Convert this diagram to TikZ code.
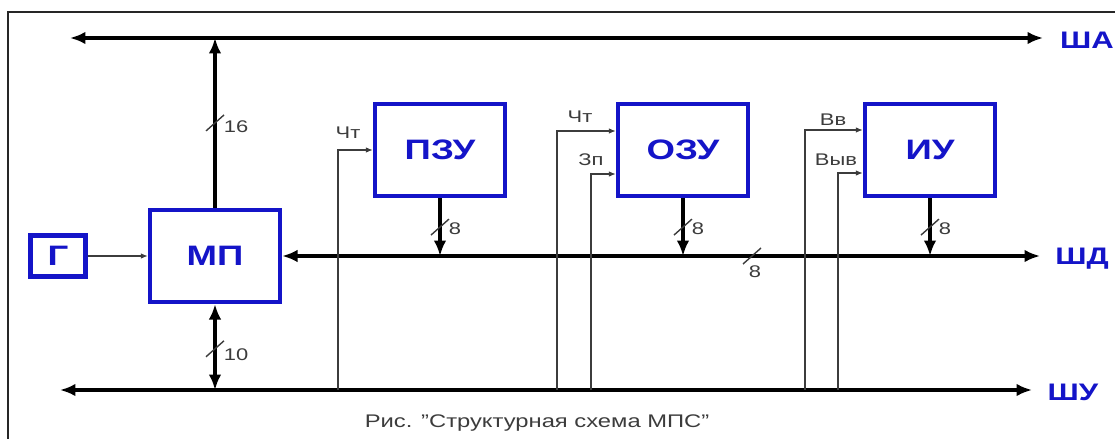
\documentclass[tikz,border=0pt]{standalone}
\usepackage{fontspec}
\setmainfont{Liberation Sans}[FakeStretch=1.3]
\usetikzlibrary{arrows.meta}
\definecolor{boxblue}{RGB}{20,20,200}
\definecolor{wiregray}{RGB}{60,60,60}
\tikzset{blk/.style={rectangle,draw=boxblue,line width=3pt,minimum width=3.25cm,minimum height=2.3cm,text=boxblue,font=\fontsize{20}{24}\selectfont\bfseries},buslbl/.style={text=boxblue,font=\fontsize{17}{20}\selectfont\bfseries},smalllbl/.style={text=wiregray,font=\fontsize{12}{14}\selectfont,inner sep=0pt},bus/.style={line width=2.8pt,{Latex[length=11pt,width=9pt]}-{Latex[length=11pt,width=9pt]}},busend/.style={line width=2.8pt,-{Latex[length=11pt,width=9pt]}},ctrl/.style={draw=wiregray,line width=1.1pt,-{Latex[length=5pt,width=4pt]}},widthmark/.style={draw=wiregray,line width=1pt},frame/.style={line width=1.5pt,draw=black!85}}

\begin{document}
\begin{tikzpicture}[x=0.025cm,y=-0.025cm]
\useasboundingbox (0,0) rectangle (1115,439);
\draw[frame] (8,439) -- (8,12) -- (1115,12);
% blocks
\node[blk] (mp) at (215,256) {МП};
\node[blk] (pzu) at (440,150) {ПЗУ};
\node[blk] (ozu) at (683,150) {ОЗУ};
\node[blk] (iu) at (930,150) {ИУ};
\node[blk,minimum width=1.375cm,minimum height=1.03cm] (gen) at (58,256) {Г};
% bus ends and taps
\coordinate (shaL) at (70,38);
\coordinate (shaR) at (1043,38);
\coordinate (shdR) at (1040,256);
\coordinate (shuL) at (60,390);
\coordinate (shuR) at (1032,390);
\coordinate (t1) at (338,390);
\coordinate (t2) at (557,390);
\coordinate (t3) at (591,390);
\coordinate (t4) at (805,390);
\coordinate (t5) at (838,390);
\node[buslbl] (sha) at (1087,40) {ША};
\node[buslbl] (shd) at (1082,259) {ШД};
\node[buslbl] (shu) at (1073,392) {ШУ};
% buses
\draw[bus] (shaL) -- (shaR);
\draw[bus] (mp.east) -- coordinate[pos=0.62] (w8) (shdR);
\draw[bus] (shuL) -- (shuR);
\draw[busend] (mp.north) -- coordinate[pos=0.5] (w16) (mp.north |- shaL);
\draw[bus] (mp.south) -- coordinate[pos=0.52] (w10) (mp.south |- shuL);
\draw[busend] (pzu.south) -- coordinate[pos=0.5] (wp) (pzu.south |- shdR);
\draw[busend] (ozu.south) -- coordinate[pos=0.5] (wo) (ozu.south |- shdR);
\draw[busend] (iu.south) -- coordinate[pos=0.5] (wi) (iu.south |- shdR);
% control lines
\draw[ctrl] (gen) -- (mp);
\draw[ctrl] (t1) |- (pzu.west);
\draw[ctrl] (t2) |- ([yshift=0.475cm]ozu.west);
\draw[ctrl] (t3) |- ([yshift=-0.6cm]ozu.west);
\draw[ctrl] (t4) |- ([yshift=0.5cm]iu.west);
\draw[ctrl] (t5) |- ([yshift=-0.575cm]iu.west);
% width marks
\foreach \w in {w8,w16,w10,wp,wo,wi}
  \draw[widthmark] (\w) ++(-9,8) -- ++(18,-16);
\node[smalllbl] (n16) at (236,127) {16};
\node[smalllbl] (n10) at (236,355) {10};
\node[smalllbl] (np) at (455,229) {8};
\node[smalllbl] (no) at (698,229) {8};
\node[smalllbl] (ni) at (945,229) {8};
\node[smalllbl] (nb) at (755,272) {8};
\node[smalllbl] (lrd1) at (348,133) {Чт};
\node[smalllbl] (lrd2) at (580,117) {Чт};
\node[smalllbl] (lwr) at (591,160) {Зп};
\node[smalllbl] (lin) at (833,120) {Вв};
\node[smalllbl] (lout) at (836,160) {Выв};
\node[text=wiregray,font=\fontsize{13}{15}\selectfont] (cap) at (537,423) {Рис. "Структурная схема МПС"};
\end{tikzpicture}
\end{document}
